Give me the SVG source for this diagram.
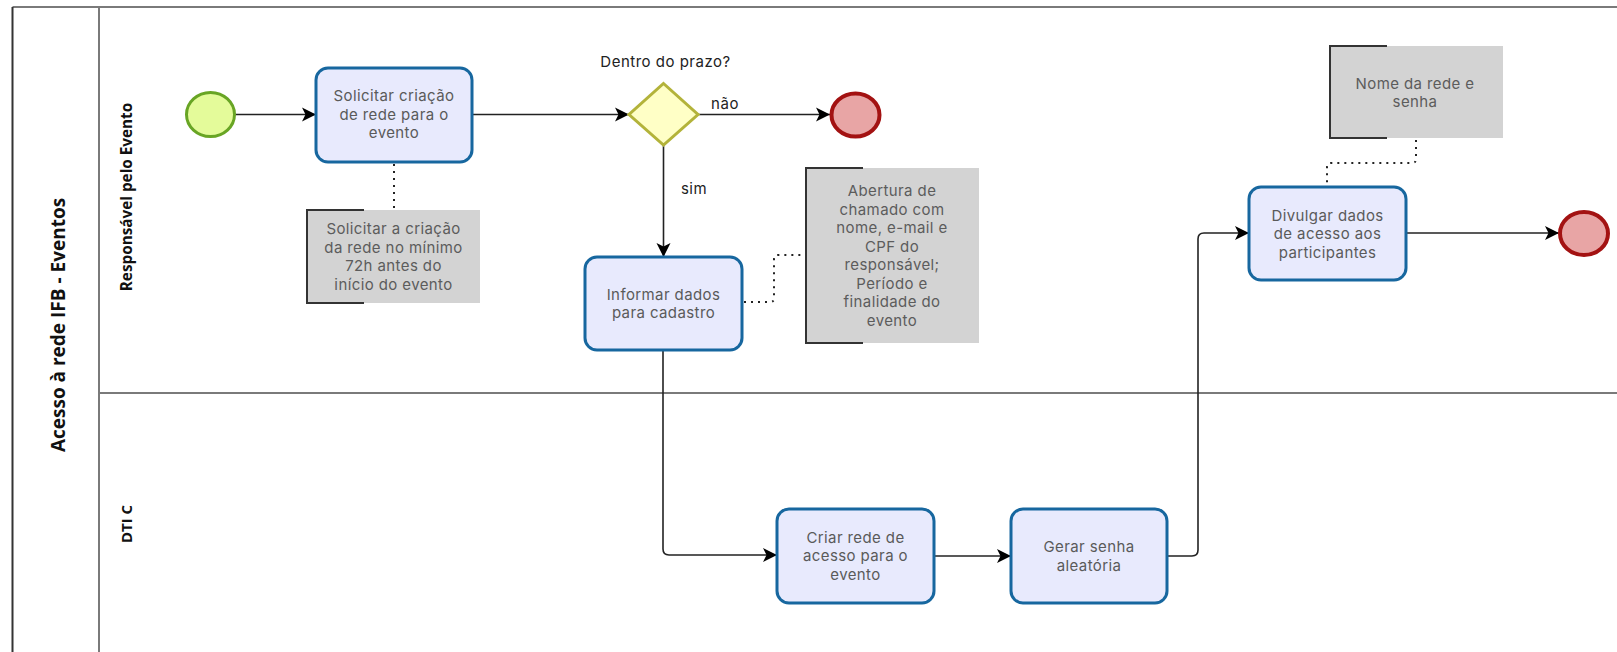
<svg xmlns="http://www.w3.org/2000/svg" width="1617" height="652" viewBox="0 0 1617 652">
<defs>
<marker id="arr" markerUnits="userSpaceOnUse" markerWidth="16" markerHeight="16" viewBox="-1 -8 16 16" refX="14" refY="0" orient="auto">
<path d="M0,-7 L14,0 L0,7 L3.5,0 Z" fill="#000"/>
</marker>
</defs>
<style>
.frame{fill:none;stroke:#7a7a7a;stroke-width:2}
.task{fill:#e8eafd;stroke:#17679f;stroke-width:3}
.tt{font-family:Inter,"Open Sans","Liberation Sans",sans-serif;font-size:15px;letter-spacing:0.4px;fill:#5a5a5a;text-anchor:middle}
.note{fill:#d3d3d3}
.br{fill:none;stroke:#333;stroke-width:2}
.nt{font-family:Inter,"Open Sans","Liberation Sans",sans-serif;font-size:15px;letter-spacing:0.4px;fill:#5c5c5c;text-anchor:middle}
.lbl{font-family:Inter,"Open Sans","Liberation Sans",sans-serif;font-size:15px;letter-spacing:0.5px;fill:#222}
.lane{font-family:"Open Sans","Liberation Sans",sans-serif;font-weight:bold;fill:#111;text-anchor:middle}
.flow{fill:none;stroke:#222;stroke-width:1.6;marker-end:url(#arr)}
.assoc{fill:none;stroke:#222;stroke-width:2;stroke-dasharray:2 5}
</style>
<g id="pool">
<path class="frame" d="M12.5,7 H1617"/>
<path class="frame" d="M12.5,7 V652" style="stroke:#333"/>
<path class="frame" d="M99,7 V652"/>
<path class="frame" d="M99,393 H1617"/>
<text class="lane" style="font-size:19px" transform="translate(58,325) rotate(-90)" x="0" y="7">Acesso à rede IFB - Eventos</text>
<text class="lane" style="font-size:15.3px" transform="translate(126,197) rotate(-90)" x="0" y="5.5">Responsável pelo Evento</text>
<text class="lane" style="font-size:15px" transform="translate(126,524) rotate(-90)" x="0" y="5.5">DTI C</text>
</g>
<g id="connectors">
<path class="flow" d="M235,114.5 H316"/>
<path class="flow" d="M472,114.5 H629"/>
<path class="flow" d="M698,114.5 H830"/>
<path class="flow" d="M663.5,145 V257"/>
<path class="flow" d="M663,350 V549 Q663,555 669,555 H777"/>
<path class="flow" d="M934,556 H1011"/>
<path class="flow" d="M1167,556 H1192 Q1198,556 1198,550 V239 Q1198,233 1204,233 H1249"/>
<path class="flow" d="M1406,233 H1559"/>
<path class="assoc" d="M394,164 V210"/>
<path class="assoc" d="M744,302 H770 Q774,302 774,298 V259 Q774,255 778,255 H802"/>
<path class="assoc" d="M1416,140 V159 Q1416,163 1412,163 H1331 Q1327,163 1327,167 V186"/>
<text class="lbl" x="665.5" y="67" text-anchor="middle">Dentro do prazo?</text>
<text class="lbl" x="725" y="109" text-anchor="middle">não</text>
<text class="lbl" x="694" y="194" text-anchor="middle">sim</text>
</g>
<g id="start">
<ellipse cx="210.5" cy="114.5" rx="24" ry="22" fill="#e4fb9a" stroke="#68a524" stroke-width="3"/>
</g>
<g id="task1">
<rect class="task" x="316" y="68" width="156" height="94" rx="12"/>
<text class="tt"><tspan x="394" y="101">Solicitar criação</tspan><tspan x="394" y="119.5">de rede para o</tspan><tspan x="394" y="138">evento</tspan></text>
</g>
<g id="note1">
<rect class="note" x="307" y="210" width="173" height="93"/>
<path class="br" d="M364,210 H307 V303 H364"/>
<text class="nt"><tspan x="393.5" y="234">Solicitar a criação</tspan><tspan x="393.5" y="252.5">da rede no mínimo</tspan><tspan x="393.5" y="271">72h antes do</tspan><tspan x="393.5" y="289.5">início do evento</tspan></text>
</g>
<g id="gateway">
<polygon points="663.5,83.5 698,114.5 663.5,145 629,114.5" fill="#ffffc6" stroke="#b3b33a" stroke-width="3"/>
</g>
<g id="end1">
<ellipse cx="855.5" cy="115" rx="24" ry="21.5" fill="#e8a5a5" stroke="#a31212" stroke-width="4"/>
</g>
<g id="task2">
<rect class="task" x="585" y="257" width="157" height="93" rx="12"/>
<text class="tt"><tspan x="663.5" y="299.5">Informar dados</tspan><tspan x="663.5" y="318">para cadastro</tspan></text>
</g>
<g id="note2">
<rect class="note" x="806" y="168" width="173" height="175"/>
<path class="br" d="M863,168 H806 V343 H863"/>
<text class="nt"><tspan x="892" y="196">Abertura de</tspan><tspan x="892" y="214.5">chamado com</tspan><tspan x="892" y="233">nome, e-mail e</tspan><tspan x="892" y="251.5">CPF do</tspan><tspan x="892" y="270">responsável;</tspan><tspan x="892" y="288.5">Período e</tspan><tspan x="892" y="307">finalidade do</tspan><tspan x="892" y="325.5">evento</tspan></text>
</g>
<g id="task3">
<rect class="task" x="777" y="509" width="157" height="94" rx="12"/>
<text class="tt"><tspan x="855.5" y="542.5">Criar rede de</tspan><tspan x="855.5" y="561">acesso para o</tspan><tspan x="855.5" y="579.5">evento</tspan></text>
</g>
<g id="task4">
<rect class="task" x="1011" y="509" width="156" height="94" rx="12"/>
<text class="tt"><tspan x="1089" y="552">Gerar senha</tspan><tspan x="1089" y="570.5">aleatória</tspan></text>
</g>
<g id="task5">
<rect class="task" x="1249" y="187" width="157" height="93" rx="12"/>
<text class="tt"><tspan x="1327.5" y="220.5">Divulgar dados</tspan><tspan x="1327.5" y="239">de acesso aos</tspan><tspan x="1327.5" y="257.5">participantes</tspan></text>
</g>
<g id="note3">
<rect class="note" x="1330" y="46" width="173" height="92"/>
<path class="br" d="M1387,46 H1330 V138 H1387"/>
<text class="nt"><tspan x="1415" y="88.5">Nome da rede e</tspan><tspan x="1415" y="107">senha</tspan></text>
</g>
<g id="end2">
<ellipse cx="1584" cy="233.5" rx="24" ry="21.5" fill="#e8a5a5" stroke="#a31212" stroke-width="4"/>
</g>
</svg>
